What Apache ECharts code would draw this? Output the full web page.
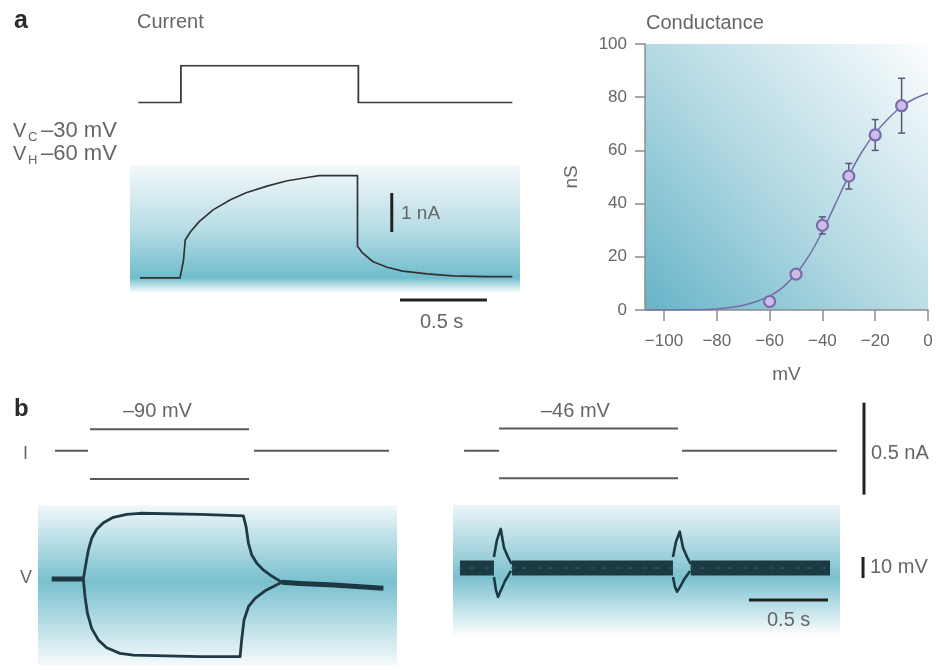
<!DOCTYPE html>
<html><head><meta charset="utf-8">
<script src="https://cdn.jsdelivr.net/npm/echarts@6/dist/echarts.min.js"></script>
<style>html,body{margin:0;padding:0;background:#fff}#c{width:937px;height:670px}</style>
</head><body><div id="c"></div>
<script>
// ---------- DATA ----------
// Panel a, voltage command (s, mV)
const aCommand = [[-0.01,-60],[0.235,-60],[0.235,-30],[1.255,-30],[1.255,-60],[2.14,-60]];
// Panel a, current trace (s, nA)
const aCurrent = [[0,0],[0.23,0],[0.25,0.45],[0.26,0.97],[0.29,1.18],[0.34,1.44],[0.42,1.74],[0.52,2.0],[0.61,2.18],[0.73,2.35],[0.84,2.48],[0.96,2.57],[1.03,2.62],[1.25,2.62],[1.25,0.81],[1.28,0.63],[1.34,0.41],[1.42,0.27],[1.51,0.17],[1.65,0.10],[1.8,0.05],[1.99,0.03],[2.14,0.03]];
// Panel a, scale bars
const aBarCurrent = [[1.447,1.17],[1.447,2.17]];   // 1 nA
const aBarTime = [[1.494,-0.57],[1.994,-0.57]];     // 0.5 s
// Conductance (mV, nS)
const gVoltage = [-60,-50,-40,-30,-20,-10];
const gMean = [3.2,13.5,31.8,50.3,65.8,76.8];
const gErr = [1.0,1.5,3.2,4.8,5.8,10.3];
const gFit = [[-107,0],[-90,0.05],[-80,0.4],[-75,0.9],[-70,1.8],[-65,3.2],[-60,5.2],[-55,8.5],[-50,13.5],[-45,20.5],[-40,29.5],[-35,40],[-30,50.5],[-25,59.5],[-20,66.5],[-15,72],[-10,76.5],[-5,79.5],[0,81.5]];
const gTicks = [-100,-80,-60,-40,-20,0];
// Panel b left, current steps (s, nA)
const bLeftI = [
  [[0.095,0],[0.304,0]],
  [[0.316,0.117],[1.323,0.117]],
  [[0.316,-0.154],[1.323,-0.154]],
  [[1.354,0],[2.209,0]]
];
// Panel b left, voltage responses (s, mV)
const bLeftVBase = [[[0.074,0],[0.274,0]],[[1.53,-1.5],[1.646,-2.1],[1.857,-2.9],[2.173,-4.4]]];
const bLeftVUp = [[0.274,0],[0.291,7.5],[0.306,13.8],[0.327,19.4],[0.359,23.7],[0.401,26.8],[0.464,29.4],[0.549,30.8],[0.633,31.3],[1.013,30.8],[1.287,30.1],[1.304,24.9],[1.319,17.0],[1.340,11.4],[1.372,7.5],[1.413,4.3],[1.466,1.4],[1.53,-1.5]];
const bLeftVDown = [[0.274,0],[0.285,-8.4],[0.300,-16.3],[0.327,-23.5],[0.369,-29.0],[0.422,-32.7],[0.506,-35.4],[0.591,-36.2],[1.013,-37.0],[1.266,-37.0],[1.276,-29.0],[1.291,-19.5],[1.319,-13.2],[1.361,-9.2],[1.424,-5.6],[1.53,-1.5]];
// Panel b right, current steps (s, nA)
const bRightI = [
  [[0.070,0],[0.291,0]],
  [[0.291,0.12],[1.424,0.12]],
  [[0.291,-0.15],[1.424,-0.15]],
  [[1.449,0],[2.430,0]]
];
// Panel b right, voltage (s, mV)
const bRightVBand = [[[0.044,0],[0.259,0]],[[0.373,0],[1.392,0]],[[1.504,0],[2.386,0]]];
const bRightVLoops = [
  [[0.259,5.2],[0.278,13.3],[0.302,18.6],[0.323,9.5],[0.348,5.2],[0.371,1.9]],
  [[0.259,-4.3],[0.272,-10.5],[0.285,-13.8],[0.304,-10.5],[0.329,-6.2],[0.367,-1.4]],
  [[1.392,5.2],[1.411,12.5],[1.435,17.3],[1.456,9.5],[1.481,5.2],[1.504,1.9]],
  [[1.392,-4.3],[1.405,-9.0],[1.418,-11.3],[1.437,-9.0],[1.462,-5.5],[1.500,-1.4]]
];
// Panel b scale bars
const bBarCurrent = [[2.601,0.261],[2.601,-0.239]]; // 0.5 nA
const bBarVolt = [[2.595,5.2],[2.595,-4.8]];        // 10 mV
const bBarTime = [[1.873,-15.2],[2.373,-15.2]];     // 0.5 s

// ---------- CHART ----------
const chart = echarts.init(document.getElementById('c'), null, {renderer:'canvas'});
const FONT = 'Liberation Sans, Arial, sans-serif';
const TXT = '#666';
const LG = (x0,y0,x1,y1,stops) => new echarts.graphic.LinearGradient(x0,y0,x1,y1,stops.map(s=>({offset:s[0],color:s[1]})));

const grids = [
  {left:130, top:65.7, width:390, height:37},                          // 0 a command
  {left:130, top:165, width:390, height:128, show:true, borderWidth:0,
    backgroundColor: LG(0,0,0,1,[[0,'#f4f9fb'],[0.5,'#b7dce5'],[0.88,'#70bdcd'],[1,'#ffffff']])}, // 1 a current
  {left:645, top:44, width:283, height:266, show:true, borderWidth:0,
    backgroundColor: LG(0,1,1,0,[[0,'#66b4c8'],[0.45,'#b1d8e2'],[1,'#fbfdfe']])}, // 2 conductance
  {left:38, top:400, width:359, height:100},                           // 3 b left I
  {left:38, top:505, width:359, height:160, show:true, borderWidth:0,
    backgroundColor: LG(0,0,0,1,[[0,'#f0f8fa'],[0.48,'#79c0cf'],[1,'#f4fafb']])}, // 4 b left V
  {left:453, top:400, width:420, height:100},                          // 5 b right I (wide, for scale bar)
  {left:453, top:505, width:387, height:132, show:true, borderWidth:0,
    backgroundColor: LG(0,0,0,1,[[0,'#ebf5f8'],[0.55,'#7cc1d0'],[1,'#ffffff']])}, // 6 b right V
  {left:453, top:505, width:420, height:132}                           // 7 b right V scale-bar overlay
];
grids.forEach(g=>{ if(g.show===undefined){g.show=false;} g.containLabel=false; });

const hx = (gi,min,max)=>({type:'value',gridIndex:gi,min,max,show:false,splitLine:{show:false}});
const xAxes = [
  hx(0,-0.0575,2.184), hx(1,-0.0575,2.184),
  {type:'value', gridIndex:2, min:-107.2, max:0,
    axisLine:{show:true,onZero:false,lineStyle:{color:'#8c8c8c',width:1.5}},
    axisTick:{show:true,length:11,customValues:gTicks,lineStyle:{color:'#8c8c8c',width:1.5}},
    axisLabel:{show:true,customValues:gTicks,margin:23,color:TXT,fontSize:17,fontFamily:FONT,
      formatter:v=>String(v).replace('-','\u2212')},
    splitLine:{show:false},
    name:'mV', nameLocation:'middle', nameGap:55, nameTextStyle:{color:TXT,fontSize:19,fontFamily:FONT}},
  hx(3,-0.0127,2.259), hx(4,-0.0127,2.259),
  hx(5,0,2.658), hx(6,0,2.449), hx(7,0,2.658)
];
const yAxes = [
  hx(0,-60,-30), hx(1,-0.39,2.89),
  {type:'value', gridIndex:2, min:0, max:100, interval:20,
    axisLine:{show:true,onZero:false,lineStyle:{color:'#8c8c8c',width:1.5}},
    axisTick:{show:true,length:10,lineStyle:{color:'#8c8c8c',width:1.5}},
    axisLabel:{show:true,margin:18,color:TXT,fontSize:17,fontFamily:FONT},
    splitLine:{show:false},
    name:'nS', nameLocation:'middle', nameGap:64, nameTextStyle:{color:TXT,fontSize:19,fontFamily:FONT}},
  hx(3,-0.268,0.2755), hx(4,-40.95,35.24),
  hx(5,-0.268,0.2755), hx(6,-32.86,30), hx(7,-32.86,30)
];

const series = [];
function line(gi, data, color, width, extra){
  series.push(Object.assign({type:'line', xAxisIndex:gi, yAxisIndex:gi, data:data, showSymbol:false, symbol:'none',
    silent:true, animation:false, lineStyle:{color:color,width:width,cap:'butt',join:'round'}}, extra||{}));
}
// panel a
line(0, aCommand, '#3a3a3a', 1.8);
line(1, aCurrent, '#333', 1.7);
line(1, aBarCurrent, '#222', 3);
line(1, aBarTime, '#222', 3, {clip:false});
// conductance
line(2, gFit, '#736ea6', 1.5, {smooth:0.3, z:3});
series.push({type:'custom', xAxisIndex:2, yAxisIndex:2, z:4, animation:false, silent:true,
  data: gVoltage.map((v,i)=>[v, gMean[i]-gErr[i], gMean[i]+gErr[i]]),
  encode:{x:0,y:[1,2]},
  renderItem:(params, api)=>{
    const x=api.value(0), lo=api.coord([x,api.value(1)]), hi=api.coord([x,api.value(2)]);
    const w=3.5, st={stroke:'#5a5676',lineWidth:1.5};
    return {type:'group', children:[
      {type:'line', shape:{x1:lo[0],y1:lo[1],x2:hi[0],y2:hi[1]}, style:st},
      {type:'line', shape:{x1:lo[0]-w,y1:lo[1],x2:lo[0]+w,y2:lo[1]}, style:st},
      {type:'line', shape:{x1:hi[0]-w,y1:hi[1],x2:hi[0]+w,y2:hi[1]}, style:st}
    ]};
  }});
series.push({type:'scatter', xAxisIndex:2, yAxisIndex:2, z:5, animation:false, silent:true,
  data: gVoltage.map((v,i)=>[v,gMean[i]]), symbol:'circle', symbolSize:11,
  itemStyle:{color:'#cdbde8', borderColor:'#7b6cae', borderWidth:2.2, opacity:1}});
// panel b left
bLeftI.forEach(seg=>line(3, seg, '#5a5a5a', 2));
bLeftVBase.forEach(seg=>line(4, seg, '#1d3842', 5));
line(4, bLeftVUp, '#1f3a44', 2.8);
line(4, bLeftVDown, '#1f3a44', 2.8);
// panel b right
bRightI.forEach(seg=>line(5, seg, '#5a5a5a', 2));
line(5, bBarCurrent, '#222', 3, {clip:false});
bRightVBand.forEach(seg=>line(6, seg, '#1b3a42', 15));
bRightVBand.forEach(seg=>line(6, seg, '#345e67', 1.5, {lineStyle:{color:'#345e67',width:1.6,type:[1.5,9,3,13],cap:'round'}}));
bRightVLoops.forEach(seg=>line(6, seg, '#1b3a42', 2.6));
line(7, bBarVolt, '#222', 3, {clip:false});
line(6, bBarTime, '#222', 3, {clip:false});

function T(text, x, y, size, opts){
  return {type:'text', x:x, y:y, silent:true, z:10, style:Object.assign({text:text, fill:TXT,
    font: (opts&&opts.weight?opts.weight+' ':'') + size + 'px ' + FONT, align:'left', verticalAlign:'middle'}, (opts&&opts.style)||{})};
}
const graphics = [
  T('a', 14, 21, 25, {weight:'bold', style:{fill:'#2a2a2a'}}),
  T('Current', 137, 22, 20),
  T('V', 13, 131, 20), T('C', 28, 137, 13), T('\u201330 mV', 41, 131, 22),
  T('V', 13, 154, 20), T('H', 28, 160, 13), T('\u201360 mV', 41, 154, 22),
  T('1 nA', 401, 214, 19),
  T('0.5 s', 420, 322, 20),
  T('Conductance', 646, 23, 20),
  T('b', 14, 409, 24, {weight:'bold', style:{fill:'#2a2a2a'}}),
  T('\u201390 mV', 123, 411, 20),
  T('I', 23, 454, 18),
  T('V', 20, 578, 18),
  T('\u201346 mV', 541, 411, 20),
  T('0.5 nA', 871, 453, 20),
  T('10 mV', 870, 567, 20),
  T('0.5 s', 767, 620, 20)
];

chart.setOption({
  animation:false,
  backgroundColor:'#ffffff',
  grid: grids,
  xAxis: xAxes,
  yAxis: yAxes,
  series: series,
  graphic: graphics
});
</script></body></html>
